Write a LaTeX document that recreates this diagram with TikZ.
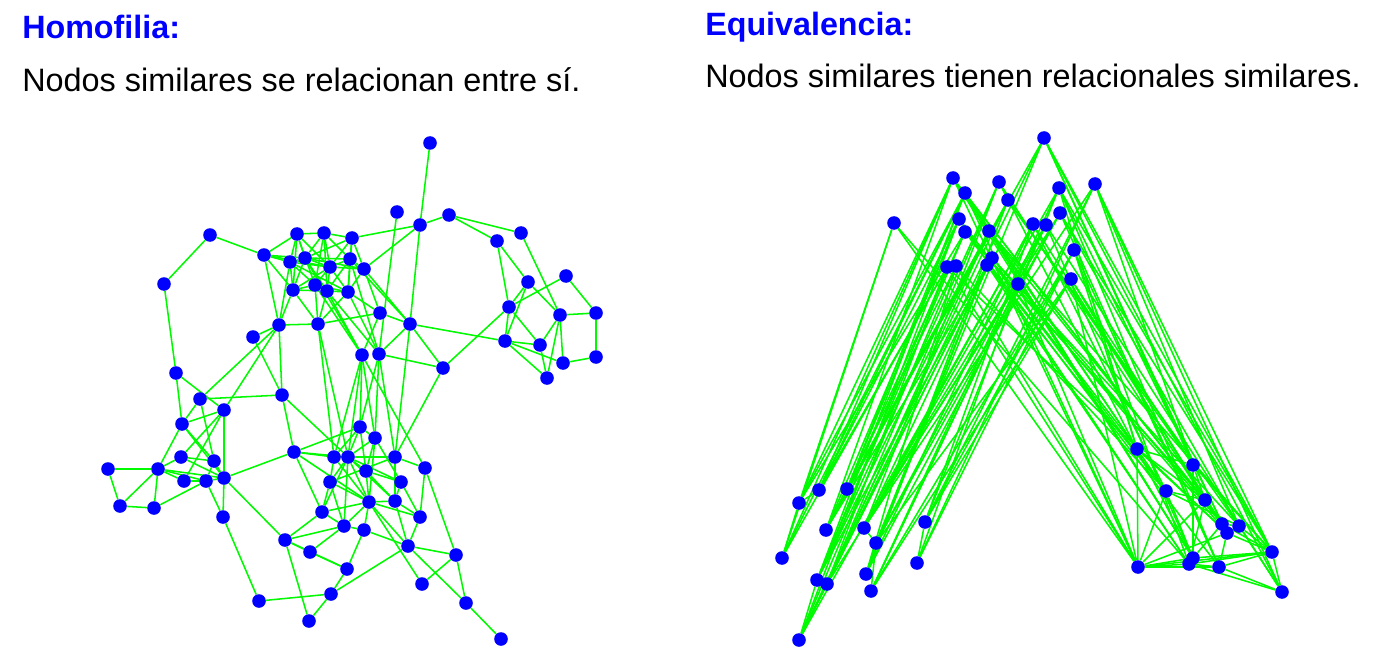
\documentclass[tikz,border=0pt]{standalone}
\usepackage{fontspec}
\setmainfont{Liberation Sans}
\begin{document}
\begin{tikzpicture}[x=0.75pt,y=-0.75pt,
  dot/.style={circle,fill=nodeblue,draw=none,minimum size=10.2pt,inner sep=0pt},
  edge/.style={draw=edgegreen,line width=1.15pt},
  title/.style={anchor=base west,inner sep=0pt,font=\fontsize{24.2}{28}\selectfont\bfseries,text=nodeblue},
  body/.style={anchor=base west,inner sep=0pt,font=\fontsize{24.3}{28}\selectfont,text=black}]
\definecolor{nodeblue}{RGB}{0,0,255}
\definecolor{edgegreen}{RGB}{0,250,0}
\pgfdeclarelayer{bg}\pgfsetlayers{bg,main}
\path[use as bounding box] (0,0) rectangle (1374,663);
% texts
\node[title] (t1) at (22,39) {Homofilia:};
\node[body] (s1) at (22,92) {Nodos similares se relacionan entre sí.};
\node[title] (t2) at (705,36) {Equivalencia:};
\node[body] (s2) at (705,88) {Nodos similares tienen relacionales similares.};
% left network nodes
\foreach \n/\x/\y in {l1/430/143,l2/397/212,l3/420/225,l4/449/215,l5/521/233,l6/497/241,l7/528/282,l8/566/276,
 l9/509/307,l10/560/315,l11/596/313,l12/505/341,l13/540/345,l14/563/363,l15/596/357,l16/547/378,
 l17/210/235,l18/164/284,l19/264/255,l20/297/234,l21/324/233,l22/352/238,l23/290/262,l24/305/258,
 l25/330/267,l26/350/259,l27/364/269,l28/293/290,l29/315/285,l30/327/291,l31/348/292,l32/380/313,
 l33/279/325,l34/318/324,l35/410/324,l36/253/337,l37/362/355,l38/379/354,l39/443/368,l40/176/373,
 l41/200/399,l42/224/410,l43/282/395,l44/182/424,l45/181/457,l46/214/461,l47/158/469,l48/108/469,
 l49/184/481,l50/206/481,l51/224/478,l52/120/506,l53/154/508,l54/223/517,l55/294/452,l56/334/457,
 l57/348/457,l58/360/427,l59/375/438,l60/395/457,l61/425/468,l62/366/471,l63/330/482,l64/401/482,
 l65/369/502,l66/395/501,l67/420/517,l68/322/512,l69/344/526,l70/364/530,l71/285/540,l72/310/552,
 l73/347/569,l74/408/546,l75/456/555,l76/422/584,l77/466/603,l78/501/639,l79/331/594,l80/259/601,l81/309/621}
 {\node[dot] (\n) at (\x,\y) {};}
% right network nodes
\foreach \n/\x/\y in {r1/1044/138,r2/953/178,r3/965/193,r4/999/182,r5/1008/200,r6/1059/188,r7/1095/184,
 r8/894/223,r9/959/219,r10/965/232,r11/989/231,r12/1033/224,r13/1046/225,r14/1060/213,r15/1074/250,
 r16/947/267,r17/956/266,r18/987/265,r19/992/258,r20/1018/284,r21/1071/279,
 r22/819/490,r23/847/489,r24/799/503,r25/826/530,r26/864/528,r27/876/543,r28/925/522,r29/782/558,
 r30/917/563,r31/866/574,r32/817/580,r33/827/584,r34/871/591,r35/799/640,
 r36/1137/449,r37/1193/465,r38/1166/491,r39/1205/500,r40/1222/524,r41/1239/526,r42/1227/533,
 r43/1272/552,r44/1193/558,r45/1189/564,r46/1138/567,r47/1219/567,r48/1282/592}
 {\node[dot] (\n) at (\x,\y) {};}
\begin{pgfonlayer}{bg}
\fill[white] (0,0) rectangle (1374,663);
% left network edges
\foreach \a/\b in {l1/l3,l3/l4,l3/l22,l3/l27,l3/l35,l2/l38,l4/l5,l4/l6,l5/l10,l6/l9,l6/l7,l7/l9,l7/l10,
 l8/l9,l8/l11,l10/l11,l11/l15,l14/l15,l10/l14,l10/l16,l10/l13,l9/l12,l9/l13,l12/l13,l12/l14,l12/l16,
 l13/l16,l7/l12,l35/l12,l9/l39,l35/l39,l27/l35,l26/l35,l35/l38,l32/l35,l38/l39,l39/l60,
 l19/l20,l19/l23,l19/l28,l19/l33,l19/l25,l19/l24,l20/l21,l20/l23,l20/l24,l20/l25,l20/l29,l20/l28,
 l21/l22,l21/l24,l21/l25,l21/l26,l21/l29,l21/l30,l22/l25,l22/l26,l22/l27,l22/l31,l22/l24,
 l23/l24,l23/l28,l23/l29,l23/l25,l23/l33,l23/l31,l24/l25,l24/l26,l24/l28,l24/l30,l24/l27,
 l25/l26,l25/l27,l25/l29,l25/l30,l25/l31,l25/l28,l26/l27,l26/l31,l26/l30,l27/l31,l27/l32,
 l28/l29,l28/l30,l28/l33,l28/l34,l29/l30,l29/l34,l29/l31,l29/l37,l30/l31,l30/l34,l30/l37,l30/l38,
 l31/l32,l31/l38,l31/l34,l33/l34,l34/l32,l32/l37,l26/l38,l24/l37,
 l17/l19,l17/l18,l18/l40,l40/l42,l40/l44,l33/l36,l33/l41,l33/l42,l33/l43,l36/l43,
 l41/l43,l41/l44,l41/l46,l42/l44,l42/l45,l42/l51,l42/l49,l44/l47,l44/l46,l44/l51,l45/l47,l45/l46,
 l45/l51,l47/l48,l48/l52,l52/l53,l52/l47,l53/l47,l53/l50,l47/l51,l47/l50,l47/l49,l49/l50,l50/l51,
 l46/l51,l46/l50,l51/l54,l50/l54,l51/l55,l51/l71,l54/l80,
 l43/l55,l43/l57,l55/l56,l55/l57,l55/l58,l55/l68,l71/l68,l71/l69,l71/l73,l71/l81,l72/l73,l71/l72,
 l73/l79,l79/l80,l79/l81,l79/l74,l73/l70,
 l61/l60,l61/l67,l61/l75,l61/l37,l60/l35,l67/l74,l66/l67,l64/l67,l74/l75,l74/l66,l74/l77,l75/l76,
 l75/l77,l77/l78,l65/l76,l58/l59,l58/l37,l59/l38,l58/l38,l59/l37,
 l55/l65,l58/l56,l58/l57,l58/l62,l59/l57,l59/l62,l59/l65,l59/l64,l56/l57,l56/l65,l57/l65,l57/l62,
 l57/l63,l57/l64,l57/l66,l57/l68,l57/l69,l60/l63,l60/l66,l62/l64,l62/l66,l62/l65,l63/l65,l63/l69,
 l64/l66,l65/l66,l65/l67,l65/l69,l65/l70,l65/l74,l68/l69,l68/l63,l68/l65,l69/l70,l72/l69,l70/l74,
 l56/l63,l57/l60,l37/l57,l38/l60,l34/l57,l34/l56,l37/l56}
 {\draw[edge] (\a) -- (\b);}
% right network edges
\foreach \a/\b in {r24/r8,r24/r2,r24/r3,r29/r24,r29/r2,r29/r16,r29/r8,r22/r2,r22/r9,r22/r24,
 r23/r3,r23/r1,r23/r10,r25/r17,r25/r11,r25/r5,r26/r12,r26/r19,r26/r6,r26/r4,r26/r7,
 r27/r13,r27/r18,r27/r26,r27/r14,r28/r21,r28/r15,r28/r30,r28/r7,r30/r20,r30/r7,
 r31/r12,r31/r17,r31/r27,r31/r5,r32/r3,r32/r10,r32/r16,r32/r19,r33/r4,r33/r11,r33/r18,r33/r1,
 r34/r13,r34/r6,r34/r27,r34/r20,r35/r32,r35/r33,r35/r9,r35/r17,r35/r12,r4/r5,
 r22/r3,r22/r16,r23/r11,r23/r9,r24/r10,r25/r19,r25/r2,r26/r14,r26/r13,r27/r21,r27/r1,r28/r12,
 r28/r6,r30/r15,r31/r18,r31/r14,r32/r11,r32/r4,r33/r16,r33/r20,r34/r21,r34/r15,r35/r18,r35/r5,
 r29/r3,r25/r9,
 r8/r45,r8/r46,r2/r46,r2/r40,r3/r36,r3/r44,r9/r38,r10/r47,r16/r42,r17/r46,
 r1/r43,r1/r48,r1/r37,r4/r39,r5/r41,r6/r43,r6/r42,r6/r36,r7/r48,r7/r43,r7/r37,
 r11/r39,r12/r40,r13/r44,r14/r47,r14/r41,r15/r36,r15/r45,r18/r38,r19/r42,r20/r46,r21/r39,r21/r37,
 r2/r36,r2/r44,r3/r40,r3/r46,r9/r45,r10/r39,r16/r46,r17/r38,r11/r43,r11/r44,r12/r38,r13/r48,
 r14/r43,r15/r47,r18/r45,r19/r41,r20/r40,r21/r46,r5/r37,r4/r44,r6/r47,r9/r36,r1/r40,r7/r41,
 r46/r36,r46/r38,r46/r45,r46/r47,r46/r43,r46/r44,r46/r39,r46/r42,
 r36/r37,r36/r39,r36/r38,r36/r42,r37/r39,r37/r44,r37/r43,r38/r39,r38/r44,r38/r41,
 r39/r40,r39/r42,r39/r45,r40/r41,r40/r42,r40/r43,r40/r44,r41/r43,r41/r48,r42/r47,r42/r43,
 r43/r44,r43/r45,r43/r47,r43/r48,r44/r45,r45/r47,r47/r48,r45/r48}
 {\draw[edge] (\a) -- (\b);}
\end{pgfonlayer}
\end{tikzpicture}
\end{document}
